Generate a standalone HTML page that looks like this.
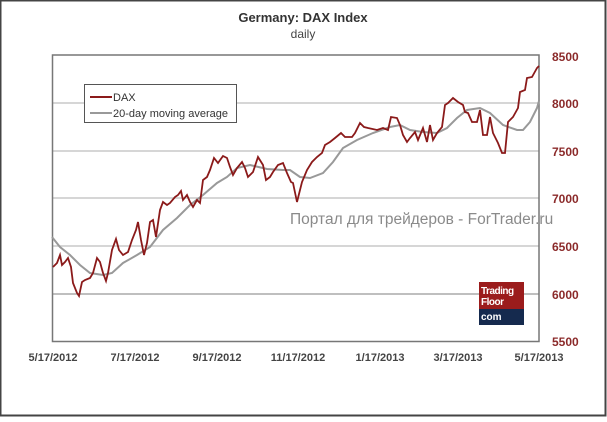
<!DOCTYPE html>
<html><head><meta charset="utf-8"><style>
html,body{margin:0;padding:0;background:#fff;}
body{width:607px;height:417px;overflow:hidden;}
</style></head><body>
<svg width="607" height="417" xmlns="http://www.w3.org/2000/svg" font-family="Liberation Sans, DejaVu Sans, sans-serif">
<rect x="0.5" y="0.5" width="605" height="415" fill="#fff" stroke="#444" stroke-width="2"/>
<text x="303" y="22" text-anchor="middle" font-size="13" font-weight="bold" fill="#333">Germany: DAX Index</text>
<text x="303" y="38" text-anchor="middle" font-size="12" fill="#444">daily</text>
<g stroke="#c8c8c8" stroke-width="1.5">
<line x1="52" y1="103" x2="539" y2="103"/>
<line x1="52" y1="151" x2="539" y2="151"/>
<line x1="52" y1="198" x2="539" y2="198"/>
<line x1="52" y1="246" x2="539" y2="246"/>
<line x1="52" y1="294" x2="539" y2="294" stroke="#aaa"/>
</g>
<rect x="52.5" y="55" width="486.5" height="286.5" fill="none" stroke="#777" stroke-width="1.5"/>
<g font-size="12" fill="#8b2a2a" font-weight="bold">
<text x="552" y="61">8500</text><text x="552" y="108">8000</text><text x="552" y="156">7500</text>
<text x="552" y="203">7000</text><text x="552" y="251">6500</text><text x="552" y="299">6000</text><text x="552" y="346">5500</text>
</g>
<g font-size="11" fill="#444" font-weight="bold" text-anchor="middle">
<text x="53" y="361">5/17/2012</text><text x="135" y="361">7/17/2012</text><text x="217" y="361">9/17/2012</text>
<text x="298" y="361">11/17/2012</text><text x="380" y="361">1/17/2013</text><text x="458" y="361">3/17/2013</text><text x="539" y="361">5/17/2013</text>
</g>
<polyline fill="none" stroke="#999" stroke-width="2" points="52,237 60,247 70,255 80,265 90,273 103,275 112,273 123,263 137,255 150,247 163,230 177,218 190,205 203,195 217,183 227,177 237,168 250,165 267,169 283,170 290,170 300,177 310,178 323,173 333,162 343,148 357,140 373,133 390,127 400,125 410,130 423,132 437,133 447,128 457,118 467,110 480,108 490,113 503,125 517,130 523,130 530,122 537,108 539,101"/>
<polyline fill="none" stroke="#8b1a1a" stroke-width="1.8" points="53,267 57,263 60,255 62,265 65,262 68,258 71,267 73,283 77,293 79,296 82,282 85,280 90,278 93,273 97,258 100,262 103,273 106,281 108,273 112,250 116,239 119,250 123,255 128,252 132,240 136,230 138,222 141,240 144,255 147,243 150,222 153,220 156,237 160,210 163,202 167,205 170,203 175,197 178,195 181,191 183,200 187,195 190,202 193,207 197,200 200,203 203,180 207,177 210,170 214,158 218,163 223,156 227,158 230,167 233,175 237,168 242,162 245,168 248,177 253,172 258,157 263,165 266,180 270,177 273,172 278,165 283,163 287,173 291,182 293,183 297,202 302,182 307,170 312,162 317,157 322,153 325,145 330,142 335,138 341,133 345,137 352,137 355,133 360,123 364,127 368,128 377,130 383,128 388,130 391,117 397,118 400,125 403,135 407,142 410,138 415,132 418,140 423,128 427,142 430,125 433,140 437,133 442,127 445,105 448,103 453,98 458,102 463,105 465,112 468,113 472,122 477,122 480,110 483,135 487,135 490,117 493,133 498,143 502,153 505,153 508,122 513,117 518,108 520,92 525,90 527,78 532,77 537,68 539,66"/>
<rect x="84.5" y="84.5" width="152" height="38" fill="#fff" stroke="#555" stroke-width="1"/>
<line x1="90" y1="97" x2="112" y2="97" stroke="#8b1a1a" stroke-width="2"/>
<line x1="90" y1="113" x2="112" y2="113" stroke="#999" stroke-width="2"/>
<text x="113" y="101" font-size="11" fill="#333">DAX</text>
<text x="113" y="117" font-size="11" fill="#333">20-day moving average</text>
<text x="290" y="224" font-size="15.5" fill="#8a8a8a">Портал для трейдеров - ForTrader.ru</text>
<rect x="479" y="282" width="45" height="27" fill="#9b1c1c"/>
<rect x="479" y="309" width="45" height="16" fill="#152a4e"/>
<text x="481" y="294" font-size="10" font-weight="bold" fill="#fff" letter-spacing="-0.5">Trading</text>
<text x="481" y="305" font-size="10" font-weight="bold" fill="#fff" letter-spacing="-0.5">Floor</text>
<text x="481" y="320" font-size="10" font-weight="bold" fill="#fff">com</text>
</svg>
</body></html>
